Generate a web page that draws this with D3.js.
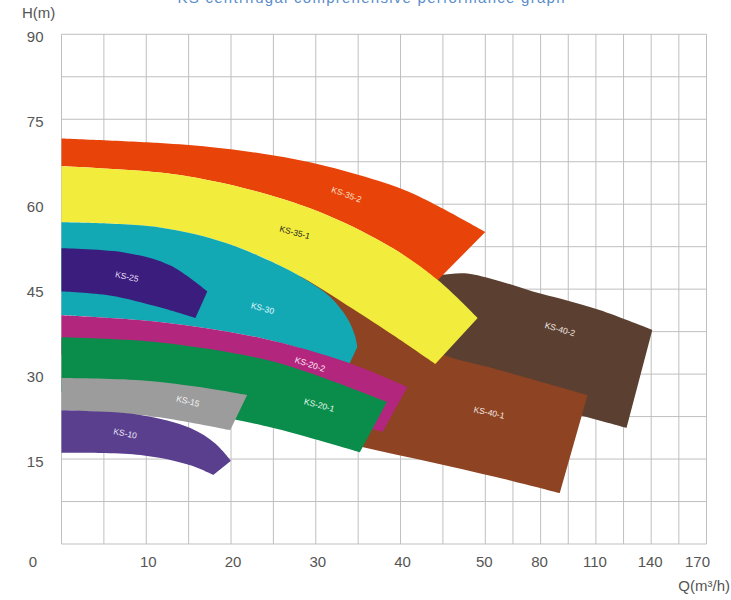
<!DOCTYPE html>
<html>
<head>
<meta charset="utf-8">
<script src="https://cdn.jsdelivr.net/npm/d3@7"></script>
<style>
  body { margin: 0; background: #fff; }
  svg { display: block; }
</style>
</head>
<body>
<div id="chart"></div>
<script>
const width = 731, height = 600;

const xTicks = [0, 10, 20, 30, 40, 50, 80, 110, 140, 170];
const yTicks = [15, 30, 45, 60, 75, 90];

// model names, drawn back to front
const models = ['KS-40-2', 'KS-40-1', 'KS-35-2', 'KS-35-1', 'KS-30', 'KS-25', 'KS-20-2', 'KS-20-1', 'KS-15', 'KS-10'];

// [Q, H] along upper and lower edge of each working range, left to right
// the last bottom point is the lower corner of the right end
const ks402Top = [[42.0, 47.1], [44.7, 47.5], [47.6, 47.8], [57.9, 46.4], [75.8, 44.6], [92.0, 43.2], [112.0, 41.3], [140.6, 37.8]];
const ks402Bottom = [[42.0, 31.1], [44.7, 29.3], [57.9, 26.3], [102.8, 22.6], [126.6, 20.5]];

const ks401Top = [[28.1, 47.3], [32.9, 44.1], [39.9, 38.6], [44.3, 33.9], [57.9, 30.7], [105.5, 26.3]];
const ks401Bottom = [[28.1, 20.1], [35.6, 17.1], [43.5, 14.5], [56.3, 11.8], [90.4, 9.0]];

const ks352Top = [[0, 71.6], [11.6, 70.8], [17.5, 70.1], [23.4, 69.0], [29.3, 67.4], [35.2, 65.1], [41.1, 62.1], [50.0, 55.1]];
const ks352Bottom = [[0, 66.7], [11.6, 65.6], [17.5, 64.2], [23.4, 62.1], [31.3, 58.1], [39.1, 52.2], [44.4, 46.6]];

const ks351Top = [[0, 66.7], [11.6, 65.6], [17.5, 64.2], [23.4, 62.1], [31.3, 58.1], [39.1, 52.2], [44.4, 46.6], [49.1, 39.9]];
const ks351Bottom = [[0, 56.8], [11.6, 55.9], [19.5, 53.1], [27.3, 48.0], [34.4, 41.5], [39.1, 36.9], [44.1, 31.8]];

const ks30Top = [[0, 56.8], [11.6, 55.9], [19.5, 53.1], [27.3, 48.0], [29.3, 46.2], [31.7, 43.6], [33.7, 39.9], [34.6, 36.9], [34.9, 34.8]];
const ks30Bottom = [[0, 40.4], [11.6, 39.2], [23.4, 36.4], [34.0, 31.9]];

const ks25Top = [[0, 52.2], [7.7, 51.4], [12.8, 49.2], [17.2, 44.6]];
const ks25Bottom = [[0, 44.6], [5.7, 43.9], [11.6, 41.8], [15.8, 39.9]];

const ks202Top = [[0, 40.4], [11.6, 39.2], [23.4, 36.4], [34.0, 31.9], [40.8, 27.7]];
const ks202Bottom = [[0, 33.4], [17.2, 30.7], [29.0, 25.4], [35.2, 21.0], [37.9, 19.8]];

const ks201Top = [[0, 36.5], [11.6, 35.6], [23.4, 32.8], [29.3, 30.2], [38.4, 25.1]];
const ks201Bottom = [[0, 26.8], [10.4, 24.7], [20.7, 21.9], [25.0, 20.5], [29.0, 18.9], [35.2, 16.2]];

const ks15Top = [[0, 29.3], [9.3, 28.9], [17.2, 27.5], [21.9, 26.3]];
const ks15Bottom = [[0, 23.6], [10.4, 22.6], [19.9, 20.1]];

const ks10Top = [[0, 23.6], [9.3, 22.8], [15.2, 20.5], [18.1, 17.8], [20.0, 14.7]];
const ks10Bottom = [[0, 16.1], [9.3, 15.7], [15.2, 13.9], [17.9, 12.2]];

// where each name sits, [Q, H]
const labelPos = [[90.4, 37.8], [52.0, 23.1], [33.6, 61.6], [27.5, 54.9], [23.7, 41.5], [7.7, 47.1], [29.3, 31.6], [30.4, 24.4], [14.9, 25.1], [7.5, 19.4]];

const tops = [ks402Top, ks401Top, ks352Top, ks351Top, ks30Top, ks25Top, ks202Top, ks201Top, ks15Top, ks10Top];
const bottoms = [ks402Bottom, ks401Bottom, ks352Bottom, ks351Bottom, ks30Bottom, ks25Bottom, ks202Bottom, ks201Bottom, ks15Bottom, ks10Bottom];

const colors = ['#5b4031', '#8e4322', '#e8440a', '#f2ec3c', '#12a8b4', '#3b1d7d', '#b3267d', '#0a8c4a', '#9c9c9c', '#5a3f8e'];
const labelColors = ['#f0e6e0', '#f5e6e0', '#fbe0d0', '#222', '#e8fbff', '#e6def8', '#fde8f4', '#e6fff0', '#f4f4f4', '#ece6f8'];
const labelAngles = [16, 12, 20, 15, 15, 12, 18, 15, 14, 12];

// x axis is stretched: 10 per step up to 50, then 30 per step
const x = d3.scaleLinear().domain([0, 50, 170]).range([61.5, 485.3, 706.5]);
const y = d3.scaleLinear().domain([0, 90]).range([544, 34.3]);

const svg = d3.select('#chart').append('svg')
    .attr('width', width).attr('height', height)
    .style('font-family', '"Liberation Sans", Arial, sans-serif');

// title, mostly cut off at the top edge like the original
svg.append('text')
    .attr('x', 371).attr('y', 2.5)
    .attr('text-anchor', 'middle')
    .attr('font-size', 15)
    .attr('fill', '#5a8dc8')
    .attr('textLength', 387)
    .text('KS centrifugal comprehensive performance graph');

// grid
const gridX = d3.range(0, 50, 5).concat(d3.range(50, 171, 15));
const gridY = d3.range(0, 90.1, 7.5);

const grid = svg.append('g').attr('stroke', '#bfbfbf').attr('stroke-width', 1);
grid.selectAll('.gx').data(gridX).join('line')
    .attr('x1', d => x(d)).attr('x2', d => x(d))
    .attr('y1', y(0)).attr('y2', y(90));
grid.selectAll('.gy').data(gridY).join('line')
    .attr('x1', x(0)).attr('x2', x(170))
    .attr('y1', d => y(d)).attr('y2', d => y(d));

// bands: smooth top edge, straight cut at the right end, smooth bottom edge back
const lineGen = d3.line().curve(d3.curveCatmullRom.alpha(0.5));

function bandPath(top, bottom) {
    const a = lineGen(top.map(p => [x(p[0]), y(p[1])]));
    const b = lineGen(bottom.slice().reverse().map(p => [x(p[0]), y(p[1])]));
    return a + 'L' + b.slice(1) + 'Z';
}

svg.append('g').selectAll('path')
    .data(models)
    .join('path')
    .attr('d', (d, i) => bandPath(tops[i], bottoms[i]))
    .attr('fill', (d, i) => colors[i]);

svg.append('g').selectAll('text')
    .data(models)
    .join('text')
    .attr('transform', (d, i) => `translate(${x(labelPos[i][0])},${y(labelPos[i][1])}) rotate(${labelAngles[i]})`)
    .attr('text-anchor', 'middle')
    .attr('dominant-baseline', 'middle')
    .attr('font-size', 8.5)
    .attr('fill', (d, i) => labelColors[i])
    .text(d => d);

// tick labels
svg.append('g').selectAll('text')
    .data(yTicks)
    .join('text')
    .attr('x', 43.5)
    .attr('y', d => y(d) + 4)
    .attr('text-anchor', 'end')
    .attr('dominant-baseline', 'middle')
    .attr('font-size', 15)
    .attr('fill', '#555')
    .text(d => d);

svg.append('g').selectAll('text')
    .data(xTicks.slice(1))
    .join('text')
    .attr('x', d => d === 170 ? x(d) - 9 : x(d) + (d < 50 ? 2 : -1))
    .attr('y', 563)
    .attr('text-anchor', 'middle')
    .attr('dominant-baseline', 'middle')
    .attr('font-size', 15)
    .attr('fill', '#555')
    .text(d => d);

// origin label sits out in the corner
svg.append('text')
    .attr('x', 33).attr('y', 563)
    .attr('text-anchor', 'middle')
    .attr('dominant-baseline', 'middle')
    .attr('font-size', 15)
    .attr('fill', '#555')
    .text(xTicks[0]);

svg.append('text')
    .attr('x', 22).attr('y', 14)
    .attr('dominant-baseline', 'middle')
    .attr('font-size', 15)
    .attr('fill', '#555')
    .text('H(m)');

svg.append('text')
    .attr('x', 730).attr('y', 587)
    .attr('text-anchor', 'end')
    .attr('dominant-baseline', 'middle')
    .attr('font-size', 15)
    .attr('fill', '#555')
    .text('Q(m³/h)');
</script>
</body>
</html>
